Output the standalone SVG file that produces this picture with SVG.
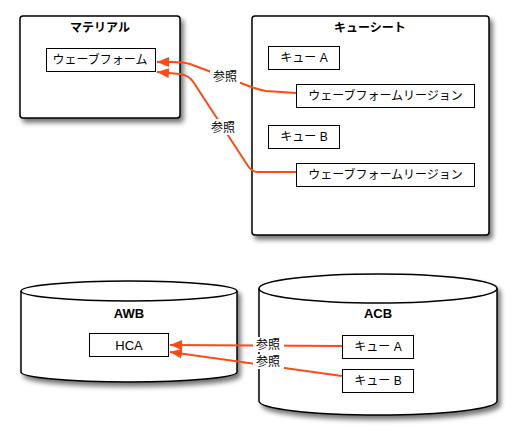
<svg xmlns="http://www.w3.org/2000/svg" width="516" height="439" viewBox="0 0 516 439">
<style>
text{font-family:"Liberation Sans","Noto Sans CJK JP",sans-serif;fill:#000;text-anchor:middle}
.t{font-size:12px;font-weight:bold}
.n{font-size:12px}
.h{font-size:13px;font-weight:bold}
.c{fill:#fff;stroke:#000;stroke-width:1.5}
.b{fill:#fff;stroke:#000;stroke-width:1}
.e{fill:none;stroke:#ff4a14;stroke-width:2}
.l{font-size:12px}
</style>
<defs>
<filter id="sh" x="-10%" y="-10%" width="125%" height="130%">
<feDropShadow dx="3" dy="4" stdDeviation="2.5" flood-color="#000" flood-opacity="0.55"/>
</filter>
<marker id="ah" viewBox="0 0 12 10" refX="12" refY="5" markerWidth="12" markerHeight="10" markerUnits="userSpaceOnUse" orient="auto">
<path d="M0,0 L12,5 L0,10 Z" fill="#ff4a14"/>
</marker>
</defs>
<g id="material">
<rect class="c" x="20" y="16" width="160" height="102" rx="3" filter="url(#sh)"/>
<text class="t" x="100" y="32">マテリアル</text>
</g>
<g id="waveform">
<rect class="b" x="46.5" y="48.5" width="109" height="23"/>
<text class="n" x="100" y="64">ウェーブフォーム</text>
</g>
<g id="cuesheet">
<rect class="c" x="252" y="16" width="237" height="219" rx="3" filter="url(#sh)"/>
<text class="t" x="370" y="32">キューシート</text>
</g>
<g id="cueA">
<rect class="b" x="268.5" y="46.5" width="71" height="23"/>
<text class="n" x="304" y="62">キュー A</text>
</g>
<g id="region1">
<rect class="b" x="296.5" y="84.5" width="178" height="23"/>
<text class="n" x="385.5" y="100">ウェーブフォームリージョン</text>
</g>
<g id="cueB">
<rect class="b" x="268.5" y="125.5" width="71" height="23"/>
<text class="n" x="304" y="141">キュー B</text>
</g>
<g id="region2">
<rect class="b" x="296.5" y="163.5" width="178" height="23"/>
<text class="n" x="385.5" y="179">ウェーブフォームリージョン</text>
</g>
<g id="awb">
<path class="c" d="M21,291 A108,10 0 0 1 237,291 L237,372 A108,10 0 0 1 21,372 Z" filter="url(#sh)"/>
<path class="c" style="fill:none" d="M21,291 A108,10 0 0 0 237,291"/>
<text class="h" x="129" y="318">AWB</text>
</g>
<g id="hca">
<rect class="b" x="89.5" y="333.5" width="79" height="23"/>
<text class="n" style="font-size:13px" x="129" y="350">HCA</text>
</g>
<g id="acb">
<path class="c" d="M259,288.5 A119,14.5 0 0 1 497,288.5 L497,401 A119,14 0 0 1 259,401 Z" filter="url(#sh)"/>
<path class="c" style="fill:none" d="M259,288.5 A119,14.5 0 0 0 497,288.5"/>
<text class="h" x="378" y="318">ACB</text>
</g>
<g id="acbCueA">
<rect class="b" x="342.5" y="335.5" width="71" height="23"/>
<text class="n" x="378" y="351">キュー A</text>
</g>
<g id="acbCueB">
<rect class="b" x="342.5" y="369.5" width="71" height="23"/>
<text class="n" x="378" y="385">キュー B</text>
</g>
<g id="connectors">
<path class="e" marker-end="url(#ah)" d="M296,93 L266,91 Q259,90 246,85 L190,64 Q183,62 172,62 L157,62"/>
<path class="e" marker-end="url(#ah)" d="M296,172 L258,172 Q252,172 248,166 L194,83 Q189,75 180,74 L157,72"/>
<path class="e" marker-end="url(#ah)" d="M342,346 L170,345"/>
<path class="e" marker-end="url(#ah)" d="M342,376 L170,352"/>
<rect x="210" y="68" width="30" height="16" fill="#fff"/>
<text class="l" x="225" y="81">参照</text>
<rect x="208" y="119" width="30" height="16" fill="#fff"/>
<text class="l" x="223" y="132">参照</text>
<rect x="253" y="337" width="31" height="15" fill="#fff"/>
<text class="l" x="268" y="349">参照</text>
<rect x="253" y="354" width="31" height="15" fill="#fff"/>
<text class="l" x="268" y="366">参照</text>
</g>
</svg>
